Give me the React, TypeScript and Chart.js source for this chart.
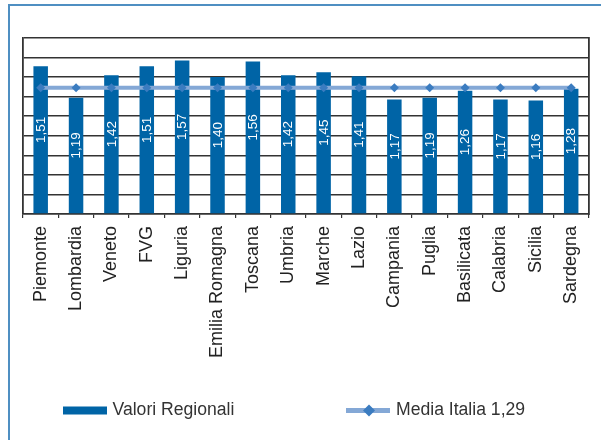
import React, { useEffect, useRef } from 'react';
import { Chart, registerables } from 'chart.js';

Chart.register(...registerables);

const categories = [
  'Piemonte', 'Lombardia', 'Veneto', 'FVG', 'Liguria', 'Emilia Romagna', 'Toscana', 'Umbria',
  'Marche', 'Lazio', 'Campania', 'Puglia', 'Basilicata', 'Calabria', 'Sicilia', 'Sardegna',
];
const regionalValues = [1.51, 1.19, 1.42, 1.51, 1.57, 1.4, 1.56, 1.42, 1.45, 1.41, 1.17, 1.19, 1.26, 1.17, 1.16, 1.28];
const italyAverageValues = [1.29, 1.29, 1.29, 1.29, 1.29, 1.29, 1.29, 1.29, 1.29, 1.29, 1.29, 1.29, 1.29, 1.29, 1.29, 1.29];
const seriesLabels = ['Valori Regionali', 'Media Italia 1,29'];
const yMin = 0;
const yMax = 1.8;
const yStep = 0.2;

const BAR_COLOR = '#0064a6';
const LINE_COLOR = '#84a8d6';
const MARKER_COLOR = '#3b7cc0';
const GRID_COLOR = '#333333';
const FONT = '"Liberation Sans", Arial, sans-serif';

const fmt = (v: number) => v.toFixed(2).replace('.', ',');

const framePlugin = {
  id: 'frame',
  beforeDraw(chart: any) {
    const ctx = chart.ctx;
    ctx.save();
    ctx.fillStyle = '#ffffff';
    ctx.fillRect(0, 0, chart.width, chart.height);
    ctx.strokeStyle = '#4f8fc2';
    ctx.lineWidth = 2;
    ctx.strokeRect(9, 5, chart.width + 40, chart.height + 40);
    ctx.restore();
  },
};

const barLabelPlugin = {
  id: 'barLabels',
  afterDatasetsDraw(chart: any) {
    const ctx = chart.ctx;
    const meta = chart.getDatasetMeta(0);
    const data = chart.data.datasets[0].data as number[];
    ctx.save();
    ctx.fillStyle = '#ffffff';
    ctx.font = `13.5px ${FONT}`;
    ctx.textAlign = 'center';
    ctx.textBaseline = 'middle';
    meta.data.forEach((el: any, i: number) => {
      const mid = (el.y + el.base) / 2 - 10;
      ctx.save();
      ctx.translate(el.x + 0.5, mid);
      ctx.rotate(-Math.PI / 2);
      ctx.fillText(fmt(data[i]), 0, 0);
      ctx.restore();
    });
    ctx.restore();
  },
};

const legendPlugin = {
  id: 'customLegend',
  afterDraw(chart: any) {
    const ctx = chart.ctx;
    const ds = chart.data.datasets;
    ctx.save();
    ctx.font = `17.6px ${FONT}`;
    ctx.textBaseline = 'middle';
    ctx.textAlign = 'left';
    const cy = 410.5;
    // bar item
    ctx.fillStyle = ds[0].backgroundColor;
    ctx.fillRect(63, cy - 4, 44, 8);
    ctx.fillStyle = '#333333';
    ctx.fillText(ds[0].label, 112.5, cy);
    // line item
    ctx.strokeStyle = ds[1].borderColor;
    ctx.lineWidth = 5;
    ctx.beginPath();
    ctx.moveTo(346, cy);
    ctx.lineTo(390, cy);
    ctx.stroke();
    ctx.fillStyle = ds[1].pointBackgroundColor;
    ctx.beginPath();
    ctx.moveTo(369, cy - 6);
    ctx.lineTo(375, cy);
    ctx.lineTo(369, cy + 6);
    ctx.lineTo(363, cy);
    ctx.closePath();
    ctx.fill();
    ctx.fillStyle = '#333333';
    ctx.fillText(ds[1].label, 396, cy);
    ctx.restore();
  },
};

export default function App() {
  const ref = useRef<HTMLCanvasElement | null>(null);
  useEffect(() => {
    if (!ref.current) return;
    const chart = new Chart(ref.current, {
      type: 'bar',
      data: {
        labels: categories,
        datasets: [
          {
            type: 'bar',
            label: seriesLabels[0],
            data: regionalValues,
            backgroundColor: BAR_COLOR,
            borderWidth: 0,
            categoryPercentage: 1,
            barPercentage: 0.41,
            order: 2,
          } as any,
          {
            type: 'line',
            label: seriesLabels[1],
            data: italyAverageValues,
            borderColor: LINE_COLOR,
            borderWidth: 4,
            pointStyle: 'rectRot',
            pointRadius: 4.5,
            pointBackgroundColor: MARKER_COLOR,
            pointBorderColor: MARKER_COLOR,
            pointBorderWidth: 0,
            fill: false,
            order: 1,
          } as any,
        ],
      },
      options: {
        responsive: false,
        animation: false,
        layout: { padding: { left: 23, right: 7, top: 38, bottom: 0 } },
        plugins: {
          legend: { display: false },
          tooltip: { enabled: false },
        },
        scales: {
          x: {
            grid: {
              display: true,
              drawOnChartArea: false,
              drawTicks: true,
              tickLength: 4,
              color: GRID_COLOR,
              lineWidth: 1.2,
              offset: true,
            },
            border: { display: true, color: GRID_COLOR, width: 1.5 },
            ticks: {
              autoSkip: false,
              minRotation: 90,
              maxRotation: 90,
              padding: 8,
              color: '#222222',
              font: { family: FONT, size: 18 },
            },
            afterFit: (scale: any) => {
              scale.height = 226;
            },
          },
          y: {
            min: yMin,
            max: yMax,
            ticks: { display: false, stepSize: yStep },
            grid: { color: GRID_COLOR, lineWidth: 1.5, drawTicks: false },
            border: { display: true, color: GRID_COLOR, width: 1.8 },
            afterFit: (scale: any) => {
              scale.width = 0;
            },
          },
          y2: {
            position: 'right',
            min: yMin,
            max: yMax,
            display: true,
            ticks: { display: false, stepSize: yStep },
            grid: { drawOnChartArea: false, drawTicks: false },
            border: { display: true, color: GRID_COLOR, width: 1.8 },
            afterFit: (scale: any) => {
              scale.width = 0;
            },
          },
        },
      },
      plugins: [framePlugin, barLabelPlugin, legendPlugin],
    } as any);
    return () => chart.destroy();
  }, []);
  return (
    <div style={{ position: 'absolute', left: 0, top: 0, width: 601, height: 440 }}>
      <canvas ref={ref} width={601} height={440} style={{ display: 'block' }} />
    </div>
  );
}
